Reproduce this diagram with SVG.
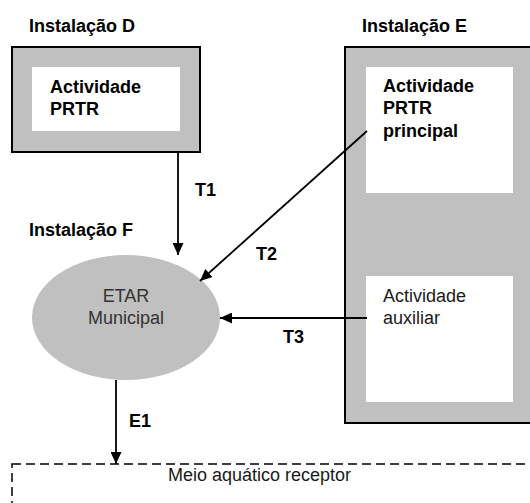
<svg xmlns="http://www.w3.org/2000/svg" width="530" height="503" viewBox="0 0 530 503">
<defs>
<marker id="ah" viewBox="0 0 12 11" refX="12" refY="5.5" markerWidth="12" markerHeight="11" markerUnits="userSpaceOnUse" orient="auto">
<path d="M0,0 L12,5.5 L0,11 Z" fill="#000"/>
</marker>
</defs>
<style>
text{font-family:"Liberation Sans",Arial,sans-serif;font-size:18px;}
.b{font-weight:bold;fill:#000;}
.n{fill:#1a1a1a;}
.outer{fill:#c0c0c0;stroke:#000;stroke-width:2;}
.inner{fill:#fff;stroke:none;}
.conn{stroke:#000;stroke-width:1.8;fill:none;marker-end:url(#ah);}
</style>
<rect width="530" height="503" fill="#fff"/>
<g id="instalacao-d">
<text class="b" x="29" y="32">Instalação D</text>
<rect class="outer" x="12" y="47" width="188" height="105"/>
<rect class="inner" x="32" y="67" width="148" height="64"/>
<text class="b" x="50" y="93">Actividade</text>
<text class="b" x="50" y="115">PRTR</text>
</g>
<g id="instalacao-e">
<text class="b" x="362" y="32">Instalação E</text>
<rect class="outer" x="345" y="47" width="190" height="376"/>
<rect class="inner" x="366" y="67" width="147" height="126"/>
<text class="b" x="383" y="92">Actividade</text>
<text class="b" x="383" y="114">PRTR</text>
<text class="b" x="383" y="137">principal</text>
<rect class="inner" x="366" y="276" width="147" height="126"/>
<text class="n" x="383" y="302">Actividade</text>
<text class="n" x="383" y="324">auxiliar</text>
</g>
<g id="instalacao-f">
<text class="b" x="29" y="236">Instalação F</text>
<ellipse cx="126" cy="317.5" rx="94" ry="62.5" fill="#c0c0c0"/>
<text fill="#333" x="126" y="302" text-anchor="middle">ETAR</text>
<text fill="#333" x="126" y="324" text-anchor="middle">Municipal</text>
</g>
<g id="meio-aquatico">
<rect x="12" y="464" width="530" height="60" fill="none" stroke="#000" stroke-width="1.5" stroke-dasharray="9,5"/>
<text class="n" x="168" y="481">Meio aquático receptor</text>
</g>
<g id="connectors">
<line class="conn" x1="178" y1="152" x2="178" y2="255"/>
<text class="b" x="195" y="196">T1</text>
<line class="conn" x1="367" y1="131" x2="200" y2="281"/>
<text class="b" x="256" y="260">T2</text>
<line class="conn" x1="367" y1="318" x2="220" y2="318"/>
<text class="b" x="283" y="343">T3</text>
<line class="conn" x1="116" y1="380" x2="116" y2="464"/>
<text class="b" x="129" y="427">E1</text>
</g>
</svg>
